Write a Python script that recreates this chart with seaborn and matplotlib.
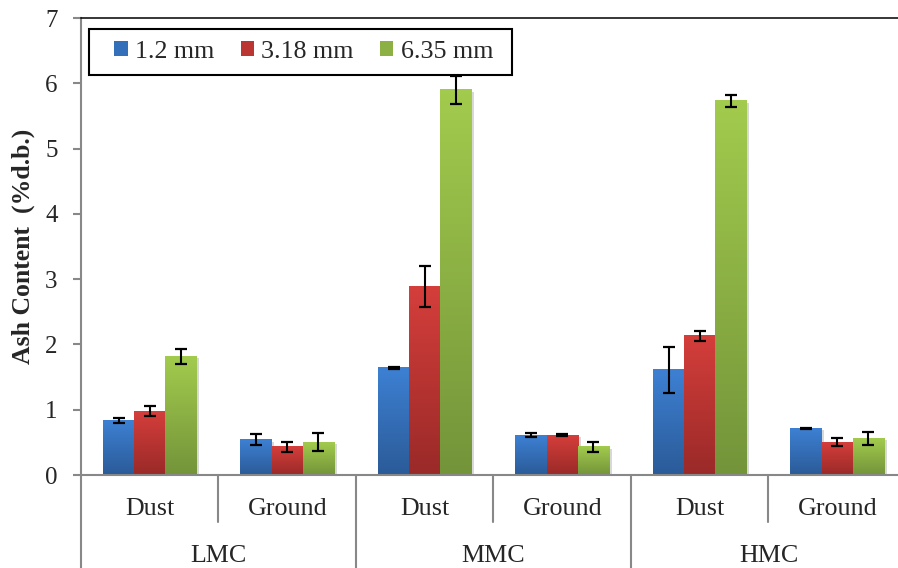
import numpy as np
import pandas as pd
import seaborn as sns
import matplotlib.pyplot as plt
import matplotlib.patheffects as pe
import matplotlib.transforms as mtransforms
from matplotlib.colors import LinearSegmentedColormap
from matplotlib.patches import Patch, Rectangle

# data
moisture = ['LMC', 'MMC', 'HMC']
forms = ['Dust', 'Ground']
sizes = ['1.2 mm', '3.18 mm', '6.35 mm']

ash_12 = [0.84, 0.54, 1.64, 0.61, 1.61, 0.715]
ash_318 = [0.98, 0.43, 2.89, 0.61, 2.13, 0.505]
ash_635 = [1.82, 0.505, 5.90, 0.43, 5.73, 0.565]
err_12 = [0.04, 0.085, 0.01, 0.03, 0.35, 0.01]
err_318 = [0.08, 0.07, 0.31, 0.02, 0.08, 0.055]
err_635 = [0.115, 0.14, 0.21, 0.08, 0.09, 0.10]

top_colors = ['#3d80d3', '#d43e3b', '#a2cb4d']
bottom_colors = ['#2b5b98', '#9a2a28', '#74943a']
mid_colors = ['#346fba', '#bb3532', '#8cb043']

groups = [f'{m} {f}' for m in moisture for f in forms]
values = [ash_12, ash_318, ash_635]
errors = [err_12, err_318, err_635]

df = pd.DataFrame({
    'group': groups * 3,
    'size': [s for s in sizes for _ in groups],
    'ash': ash_12 + ash_318 + ash_635,
})

sns.set_style('white')
plt.rcParams['font.family'] = ['Liberation Serif', 'DejaVu Serif']

fig = plt.figure(figsize=(8.98, 5.68), dpi=100)
ax = fig.add_axes([0.0902, 0.1637, 0.9187, 0.8046])

sns.barplot(data=df, x='group', y='ash', hue='size', order=groups, hue_order=sizes,
            palette=mid_colors, width=0.68, gap=0, errorbar=None, saturation=1,
            legend=False, ax=ax)

grad = np.linspace(0, 1, 64).reshape(-1, 1)
bar_sets = list(ax.containers)
for i, cont in enumerate(bar_sets):
    cmap = LinearSegmentedColormap.from_list(f'g{i}', [bottom_colors[i], top_colors[i]])
    xs = []
    for bar in cont:
        bar.set_edgecolor('none')
        bar.set_path_effects([pe.SimplePatchShadow(offset=(2, -1.5), shadow_rgbFace='#808080', alpha=0.3),
                              pe.Normal()])
        x0, w, h = bar.get_x(), bar.get_width(), bar.get_height()
        ax.imshow(grad, extent=[x0, x0 + w, 0, h], origin='lower', aspect='auto',
                  cmap=cmap, zorder=2, interpolation='bilinear')
        xs.append(x0 + w / 2)
    ax.errorbar(xs, values[i], yerr=errors[i], fmt='none', ecolor='black',
                elinewidth=1.5, capsize=4.2, capthick=1.6, zorder=3)

ax.set_xlim(-0.5, 5.5)
ax.set_ylim(0, 7)
ax.set_yticks(range(0, 8))
ax.set_xticks([])
ax.set_xlabel('')
ax.set_ylabel('Ash Content  (%d.b.)', fontsize=18.5, fontweight='bold')
ax.yaxis.set_label_coords(-0.056, 0.5)
ax.tick_params(axis='y', left=True, direction='out', length=5.8, width=1.5,
               color='#888888', labelsize=18, pad=11)

for side in ['left', 'bottom']:
    ax.spines[side].set_color('#888888')
    ax.spines[side].set_linewidth(1.5)
ax.spines['top'].set_color('black')
ax.spines['top'].set_linewidth(1.1)
ax.spines['right'].set_visible(False)

# hierarchical category labels
trans = mtransforms.blended_transform_factory(ax.transData, ax.transAxes)
for j, g in enumerate(groups):
    ax.text(j, -0.074, g.split(' ')[1], transform=trans, ha='center', va='center', fontsize=18.7)
for k, m in enumerate(moisture):
    ax.text(2 * k + 0.5, -0.177, m, transform=trans, ha='center', va='center', fontsize=18.7)
for xb in [0.5, 2.5, 4.5]:
    ax.plot([xb, xb], [0, -0.103], transform=trans, color='#888888', lw=1.5, clip_on=False)
for xb in [-0.5, 1.5, 3.5, 5.5]:
    ax.plot([xb, xb], [0, -0.21], transform=trans, color='#888888', lw=1.5, clip_on=False)

# legend in a plain box
box = Rectangle((0.0097, 0.8753), 0.5127, 0.1006, transform=ax.transAxes,
                facecolor='white', edgecolor='black', lw=1.5, zorder=5)
ax.add_patch(box)
handles = [Patch(facecolor=c, edgecolor='none') for c in mid_colors]
leg = ax.legend(handles, sizes, loc='center', bbox_to_anchor=(0.0097 + 0.5127 / 2 + 0.004, 0.8753 + 0.1006 / 2),
                ncol=3, frameon=False, fontsize=18.7, handlelength=0.52, handleheight=0.52,
                handletextpad=0.28, columnspacing=1.0, borderpad=0)
leg.set_zorder(6)

fig.savefig('out.png', dpi=100)
